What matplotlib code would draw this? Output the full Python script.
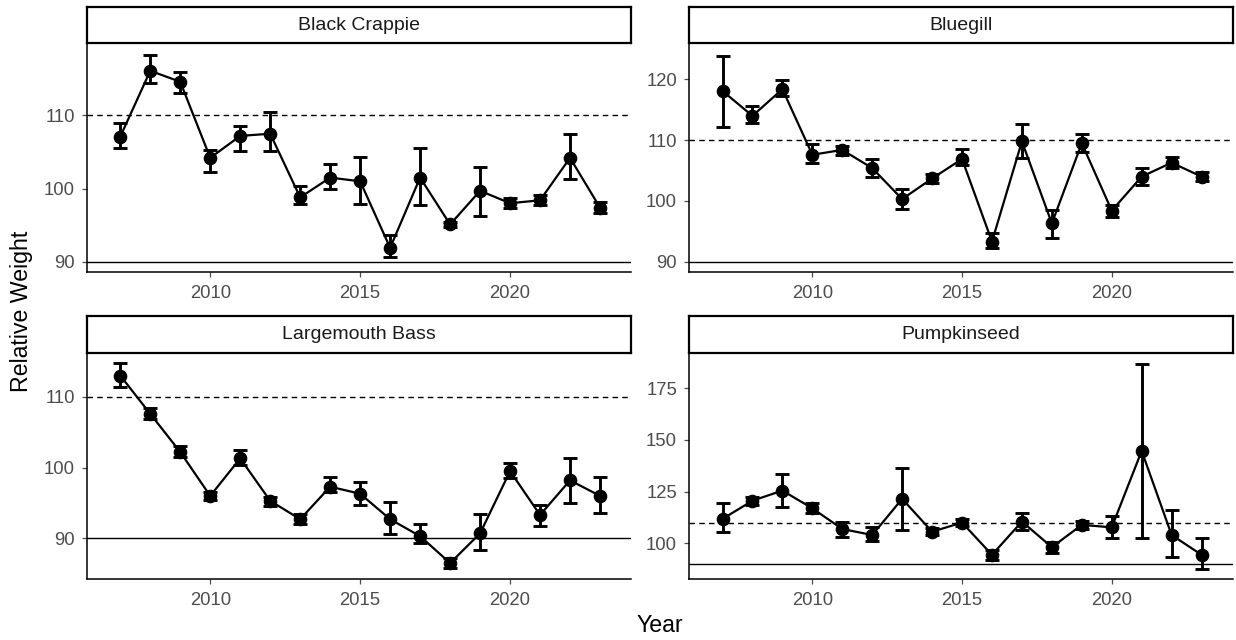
import matplotlib
matplotlib.use("Agg")
import matplotlib.pyplot as plt

plt.rcParams['font.family'] = ['Liberation Sans', 'DejaVu Sans']

years = list(range(2007, 2024))

species = ["Black Crappie", "Bluegill", "Largemouth Bass", "Pumpkinseed"]

crappie_mean = [107.1, 116.1, 114.6, 104.2, 107.2, 107.5, 98.8, 101.5, 101.0, 91.9, 101.5, 95.1, 99.7, 98.0, 98.4, 104.2, 97.4]
crappie_hi = [108.9, 118.3, 116.0, 105.3, 108.6, 110.5, 100.4, 103.4, 104.3, 93.6, 105.5, 95.5, 103.0, 98.7, 99.1, 107.4, 98.2]
crappie_lo = [105.5, 114.4, 113.1, 102.2, 105.2, 105.2, 97.9, 99.9, 97.9, 90.6, 97.7, 94.7, 96.3, 97.3, 97.7, 101.3, 96.6]

bluegill_mean = [118.1, 114.0, 118.4, 107.6, 108.4, 105.4, 100.3, 103.7, 106.9, 93.3, 109.8, 96.3, 109.5, 98.4, 104.0, 106.3, 104.0]
bluegill_hi = [123.9, 115.7, 119.9, 109.3, 109.1, 106.9, 102.0, 104.5, 108.5, 94.7, 112.6, 98.5, 111.1, 99.3, 105.5, 107.2, 104.7]
bluegill_lo = [112.2, 112.8, 117.2, 106.3, 107.6, 103.9, 98.7, 102.9, 105.9, 92.2, 107.0, 93.9, 108.1, 97.4, 102.6, 105.5, 103.2]

bass_mean = [113.0, 107.6, 102.2, 96.0, 101.3, 95.3, 92.7, 97.3, 96.3, 92.7, 90.3, 86.5, 90.7, 99.5, 93.3, 98.2, 96.0]
bass_hi = [114.8, 108.4, 103.0, 96.6, 102.5, 95.9, 93.4, 98.7, 97.9, 95.2, 92.0, 87.2, 93.4, 100.6, 94.7, 101.3, 98.7]
bass_lo = [111.4, 106.9, 101.5, 95.4, 100.4, 94.6, 92.0, 96.6, 94.7, 90.6, 89.4, 85.8, 88.3, 98.5, 91.7, 95.0, 93.6]

pumpkin_mean = [111.8, 120.6, 125.5, 116.9, 106.9, 104.0, 121.5, 105.6, 110.0, 94.4, 110.5, 98.1, 108.9, 107.7, 144.7, 104.0, 94.4]
pumpkin_hi = [119.4, 122.6, 133.5, 119.4, 110.2, 108.1, 136.3, 107.3, 111.6, 96.8, 114.8, 100.8, 111.0, 113.4, 186.8, 116.1, 102.7]
pumpkin_lo = [105.6, 118.5, 117.7, 114.5, 103.2, 101.3, 106.5, 104.0, 108.4, 91.9, 106.5, 95.5, 106.8, 102.4, 102.7, 93.2, 87.6]

series = [
    (crappie_mean, crappie_lo, crappie_hi),
    (bluegill_mean, bluegill_lo, bluegill_hi),
    (bass_mean, bass_lo, bass_hi),
    (pumpkin_mean, pumpkin_lo, pumpkin_hi),
]
yticks = [[90, 100, 110], [90, 100, 110, 120], [90, 100, 110], [100, 125, 150, 175]]
ylims = [(88.6, 119.9), (88.3, 126.0), (84.25, 116.2), (82.7, 192.1)]
xticks = [2010, 2015, 2020]
upper_ref = 110
lower_ref = 90

W, H = 1236, 640
fig = plt.figure(figsize=(W / 100, H / 100), dpi=100)

def fx(px):
    return px / W

def fy(py):
    return 1 - py / H

cols = [(86.7, 631.5), (689, 1233)]
rows = [(43, 272, 7), (353, 579, 316)]
tick_color = "#4D4D4D"

for i, name in enumerate(species):
    r, c = divmod(i, 2)
    x0, x1 = cols[c]
    ytop, ybot, stop = rows[r]
    ax = fig.add_axes([fx(x0), fy(ybot), fx(x1 - x0), (ybot - ytop) / H])
    mean, lo, hi = series[i]
    ax.axhline(upper_ref, color="black", lw=1.0, ls=(0, (4, 3)), zorder=1)
    ax.axhline(lower_ref, color="black", lw=1.0, zorder=1)
    yerr = [[m - l for m, l in zip(mean, lo)], [h - m for m, h in zip(mean, hi)]]
    ax.errorbar(years, mean, yerr=yerr, fmt="none", ecolor="black", elinewidth=2.1,
                capsize=5, capthick=2.1, zorder=3)
    ax.plot(years, mean, color="black", lw=1.6, zorder=2)
    ax.plot(years, mean, "o", color="black", ms=8.8, zorder=4)
    ax.set_xlim(2005.88, 2024.05)
    ax.set_ylim(*ylims[i])
    ax.set_xticks(xticks)
    ax.set_yticks(yticks[i])
    for s in ["top", "right"]:
        ax.spines[s].set_visible(False)
    for s in ["left", "bottom"]:
        ax.spines[s].set_linewidth(1.1)
        ax.spines[s].set_color("black")
    ax.tick_params(axis="both", colors=tick_color, labelsize=13.3, length=3.6, width=0.9,
                   labelcolor=tick_color)
    ax.tick_params(axis="y", pad=5)
    ax.tick_params(axis="x", pad=5.5)
    # strip
    sax = fig.add_axes([fx(x0), fy(ytop), fx(x1 - x0), (ytop - stop) / H])
    sax.set_xticks([])
    sax.set_yticks([])
    for s in sax.spines.values():
        s.set_linewidth(1.6)
        s.set_color("black")
    sax.text(0.5, 0.5, name, ha="center", va="center", fontsize=14, color="#1A1A1A",
             transform=sax.transAxes)

fig.text(fx(22), fy(311), "Relative Weight", rotation=90, ha="center", va="center", fontsize=16.7)
fig.text(fx(660), fy(626), "Year", ha="center", va="center", fontsize=16.7)

fig.savefig("out.png", dpi=100, facecolor="white")
